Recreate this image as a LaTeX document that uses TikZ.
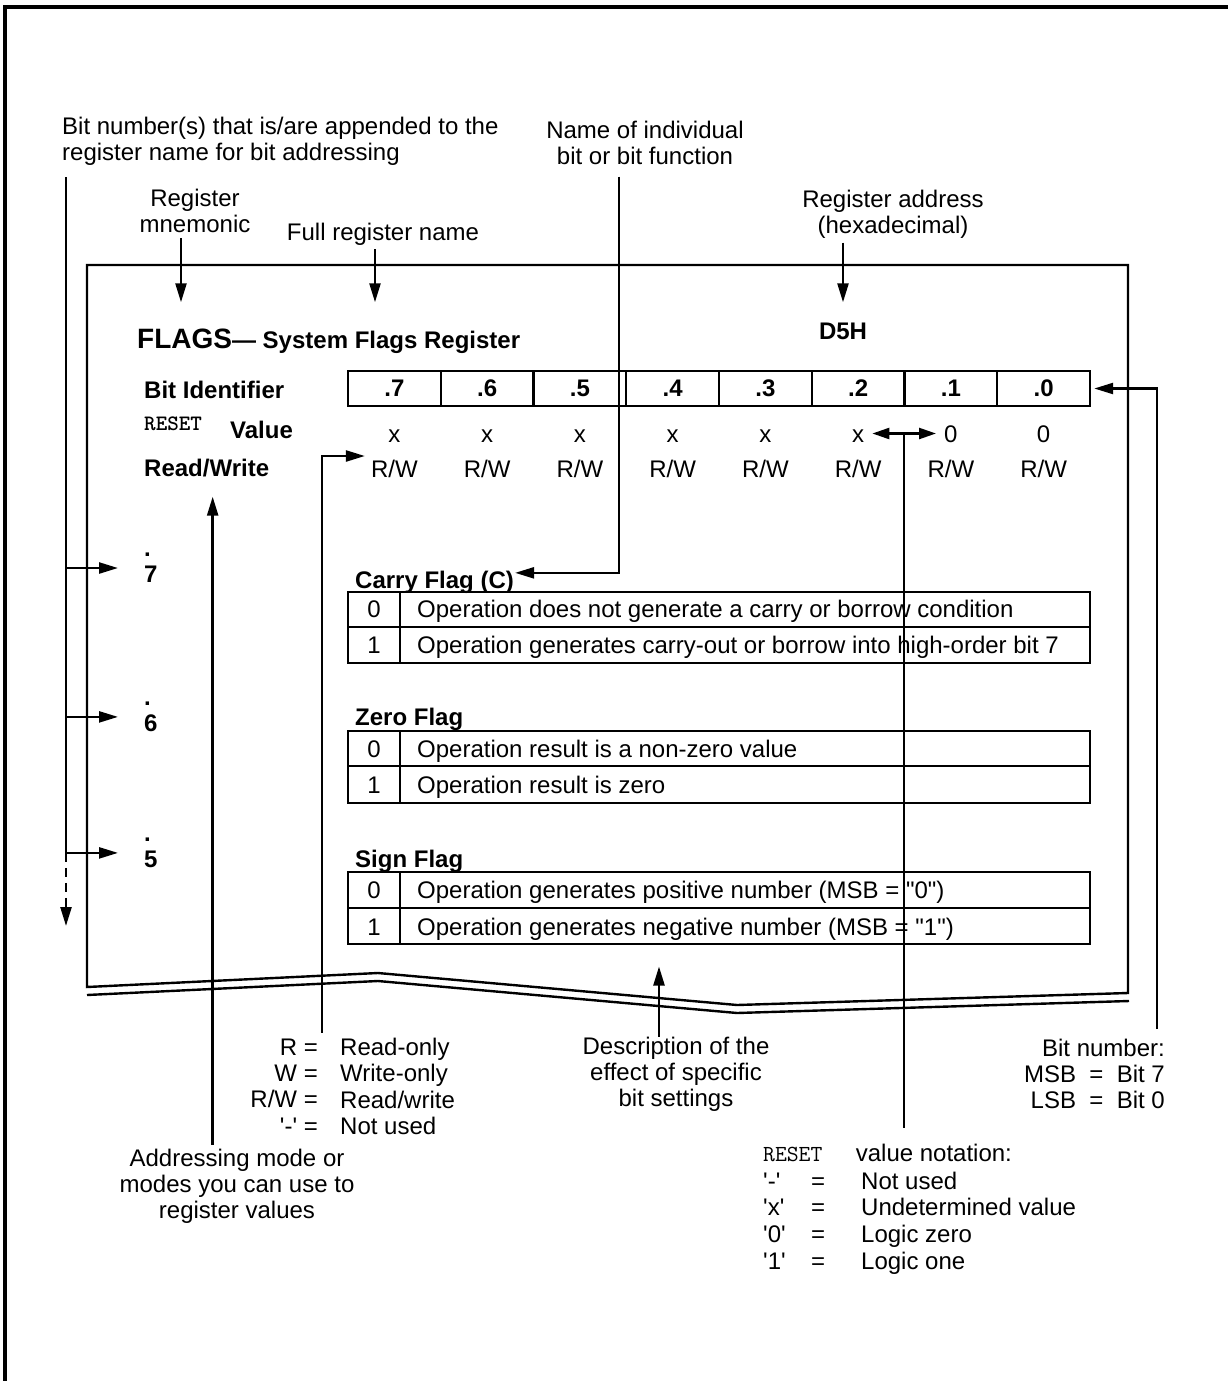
\documentclass[tikz,border=0pt]{standalone}
\usepackage{fontspec}
\setmainfont{Liberation Sans}[Ligatures=TeXOff]
\usepackage{tikz}
\usetikzlibrary{arrows.meta,calc,positioning}

\begin{document}
\begin{tikzpicture}[x=1pt, y=-1pt,
    every node/.style={inner sep=0pt},
    font=\fontsize{24}{26}\selectfont,
    lead/.style={line width=2.4pt},
    arr/.style={line width=2.4pt, -{Triangle[length=19pt, width=11pt]}},
    arrs/.style={line width=2.4pt, {Triangle[length=17pt, width=11pt]}-{Triangle[length=17pt, width=11pt]}},
    lbl/.style={anchor=base west, font=\fontsize{24}{26}\selectfont\bfseries},
    bitcell/.style={draw, line width=2.4pt, minimum width=92.75pt, minimum height=35pt,
        font=\fontsize{24}{26}\selectfont\bfseries},
    cellval/.style={anchor=base, text height=17pt, text depth=0pt},
    rst/.style={font=\fontsize{23}{24}\selectfont\ttfamily}]
    \useasboundingbox (0,0) rectangle (1228,1381);

    % Page frame
    \draw[line width=3.2pt] (5,1381) -- (5,7) -- (1228,7);

    % Register frame with break line
    \draw[lead] (87,987) -- (87,265) -- (1128,265) -- (1128,993) -- (737,1005) -- (378,973) -- cycle;
    \draw[lead] (87,995) -- (378,981) -- (737,1013) -- (1129,1001);

    % Notes above the frame
    \node[anchor=north west, align=left] (bitaddr) at (62,116.5)
        {Bit number(s) that is/are appended to the\\register name for bit addressing};
    \node[anchor=north, align=center] (bitname) at (645,120.5) {Name of individual\\bit or bit function};
    \node[anchor=north, align=center] (mnem) at (195,189) {Register\\mnemonic};
    \node[anchor=base] (full) at (383,240) {Full register name};
    \node[anchor=north, align=center] (addr) at (893,189.8) {Register address\\(hexadecimal)};

    % Register name and address
    \node[lbl] (flags) at (137,348) {{\fontsize{28}{30}\selectfont FLAGS}— System Flags Register};
    \node[anchor=base, font=\fontsize{24}{26}\selectfont\bfseries] (d5h) at (843,339) {D5H};

    \coordinate (mtip) at ([shift={(44,-26)}]flags.north west);
    \coordinate (ftip) at ([shift={(238,-26)}]flags.north west);
    \coordinate (atip) at ([yshift=20pt]d5h.north);
    \draw[arr, shorten <=5pt] (mnem.south -| mtip) -- (mtip);
    \draw[arr, shorten <=4pt] (full.south -| ftip) -- (ftip);
    \draw[arr, shorten <=4pt] (addr.south -| atip) -- (atip);

    % Row labels
    \node[lbl] (bitid) at (144,398) {Bit Identifier};
    \node[anchor=base west, font=\fontsize{22}{24}\selectfont\ttfamily\bfseries] (rstlbl) at (144,430) {RESET};
    \node[lbl] (vallbl) at (230,438) {Value};
    \node[lbl] (rwlbl) at (144,476) {Read/Write};

    % Bit identifiers, reset values, access
    \foreach \b [count=\i] in {7,6,...,0}
        \node[bitcell] (b\b) at ({348+92.75*(\i-0.5)},388.5) {.\b};
    \foreach \b/\v [count=\i] in {7/x,6/x,5/x,4/x,3/x,2/x,1/0,0/0} {
        \node[cellval] (rv\b) at ({348+92.75*(\i-0.5)},442) {\v};
        \node[cellval] (rw\b) at ({348+92.75*(\i-0.5)},477) {R/W};
    }

    % Bit numbers on the left
    \node[lbl, anchor=south west, align=left] (n7) at (144,583) {.\\7};
    \node[lbl, anchor=south west, align=left] (n6) at (144,732) {.\\6};
    \node[lbl, anchor=south west, align=left] (n5) at (144,868) {.\\5};

    \coordinate (bstem) at ([shift={(4,12)}]bitaddr.south west);
    \coordinate (bend) at (66,926);
    \draw[lead] (bstem) -- (bstem |- n5.west);
    \foreach \n in {7,6,5}
        \draw[arr] (bstem |- n\n.west) -- ([xshift=-26pt]n\n.west);
    \draw[arr, dash pattern=on 9pt off 6pt] (bstem |- n5.west) -- (bend);

    % Carry flag
    \node[lbl] (carry) at (355,588) {Carry Flag (C)};
    \draw[lead] (348,592) rectangle (1090,663);
    \draw[lead] (348,627) -- (1090,627);
    \draw[lead] (400,592) -- (400,663);
    \node[anchor=base] (c0) at (374,617) {0};
    \node[anchor=base west] (c0txt) at (417,617) {Operation does not generate a carry or borrow condition};
    \node[anchor=base] (c1) at (374,653) {1};
    \node[anchor=base west] (c1txt) at (417,653) {Operation generates carry-out or borrow into high-order bit 7};

    % Zero flag
    \node[lbl] (zero) at (355,725) {Zero Flag};
    \draw[lead] (348,731) rectangle (1090,803);
    \draw[lead] (348,766) -- (1090,766);
    \draw[lead] (400,731) -- (400,803);
    \node[anchor=base] (z0) at (374,757) {0};
    \node[anchor=base west] (z0txt) at (417,757) {Operation result is a non-zero value};
    \node[anchor=base] (z1) at (374,793) {1};
    \node[anchor=base west] (z1txt) at (417,793) {Operation result is zero};

    % Sign flag
    \node[lbl] (sign) at (355,867) {Sign Flag};
    \draw[lead] (348,872) rectangle (1090,944);
    \draw[lead] (348,908) -- (1090,908);
    \draw[lead] (400,872) -- (400,944);
    \node[anchor=base] (s0) at (374,898) {0};
    \node[anchor=base west] (s0txt) at (417,898) {Operation generates positive number (MSB = "0")};
    \node[anchor=base] (s1) at (374,935) {1};
    \node[anchor=base west] (s1txt) at (417,935) {Operation generates negative number (MSB = "1")};

    % Name of bit leader
    \coordinate (ctip) at ([shift={(1,-9)}]carry.east);
    \draw[arr] ([shift={(-26,12)}]bitname.south) |- (ctip);

    % Notes below the frame
    \node[anchor=north east, align=right, font=\fontsize{24}{26.3}\selectfont] (rwkeys) at (318,1038.5)
        {R =\\W =\\R/W =\\'-' =};
    \node[align=left, right=22pt of rwkeys, font=\fontsize{24}{26.3}\selectfont] (rwvals)
        {Read-only\\Write-only\\Read/write\\Not used};
    \node[anchor=north, align=center] (descr) at (676,1036.5) {Description of the\\effect of specific\\bit settings};
    \node[anchor=north east, align=right] (msb) at (1165,1039) {Bit number:\\MSB\ \ =\ \ Bit 7\\LSB\ \ =\ \ Bit 0};
    \node[anchor=north, align=center] (amode) at (237,1148.5) {Addressing mode or\\modes you can use to\\register values};

    \node[rst, anchor=base west] (rnreset) at (763,1161) {RESET};
    \node[base right=33pt of rnreset] (rnote) {value notation:};
    \node[anchor=north west, font=\fontsize{24}{26.7}\selectfont] (rlist) at (763,1170.3)
        {\begin{tabular}{@{}p{48pt}@{}p{50pt}@{}l@{}}
            '-' & = & Not used\\
            'x' & = & Undetermined value\\
            '0' & = & Logic zero\\
            '1' & = & Logic one
        \end{tabular}};

    % Leaders to the notes
    \coordinate (rwtip) at ([shift={(6,20)}]rwlbl.south);
    \draw[arr, shorten <=4pt] (amode.north -| rwtip) -- (rwtip);
    \draw[arr] ([shift={(4,-6)}]rwkeys.north east) |- ([shift={(-6,-12.5)}]rw7.west);
    \coordinate (dtip) at ([shift={(-17,-70)}]descr.north);
    \draw[arr] (descr.north -| dtip) -- (dtip);
    \draw[arr] ([shift={(-8,-10)}]msb.north east) |- ([xshift=3pt]b0.east);
    \draw[arrs] ([xshift=8pt]rv2.east) -- ([xshift=-8pt]rv1.west);
    \coordinate (xmid) at ($(rv2.east)!0.5!(rv1.west)$);
    \draw[lead, shorten >=15pt] (xmid) -- (xmid |- rnote.north);

\end{tikzpicture}
\end{document}
